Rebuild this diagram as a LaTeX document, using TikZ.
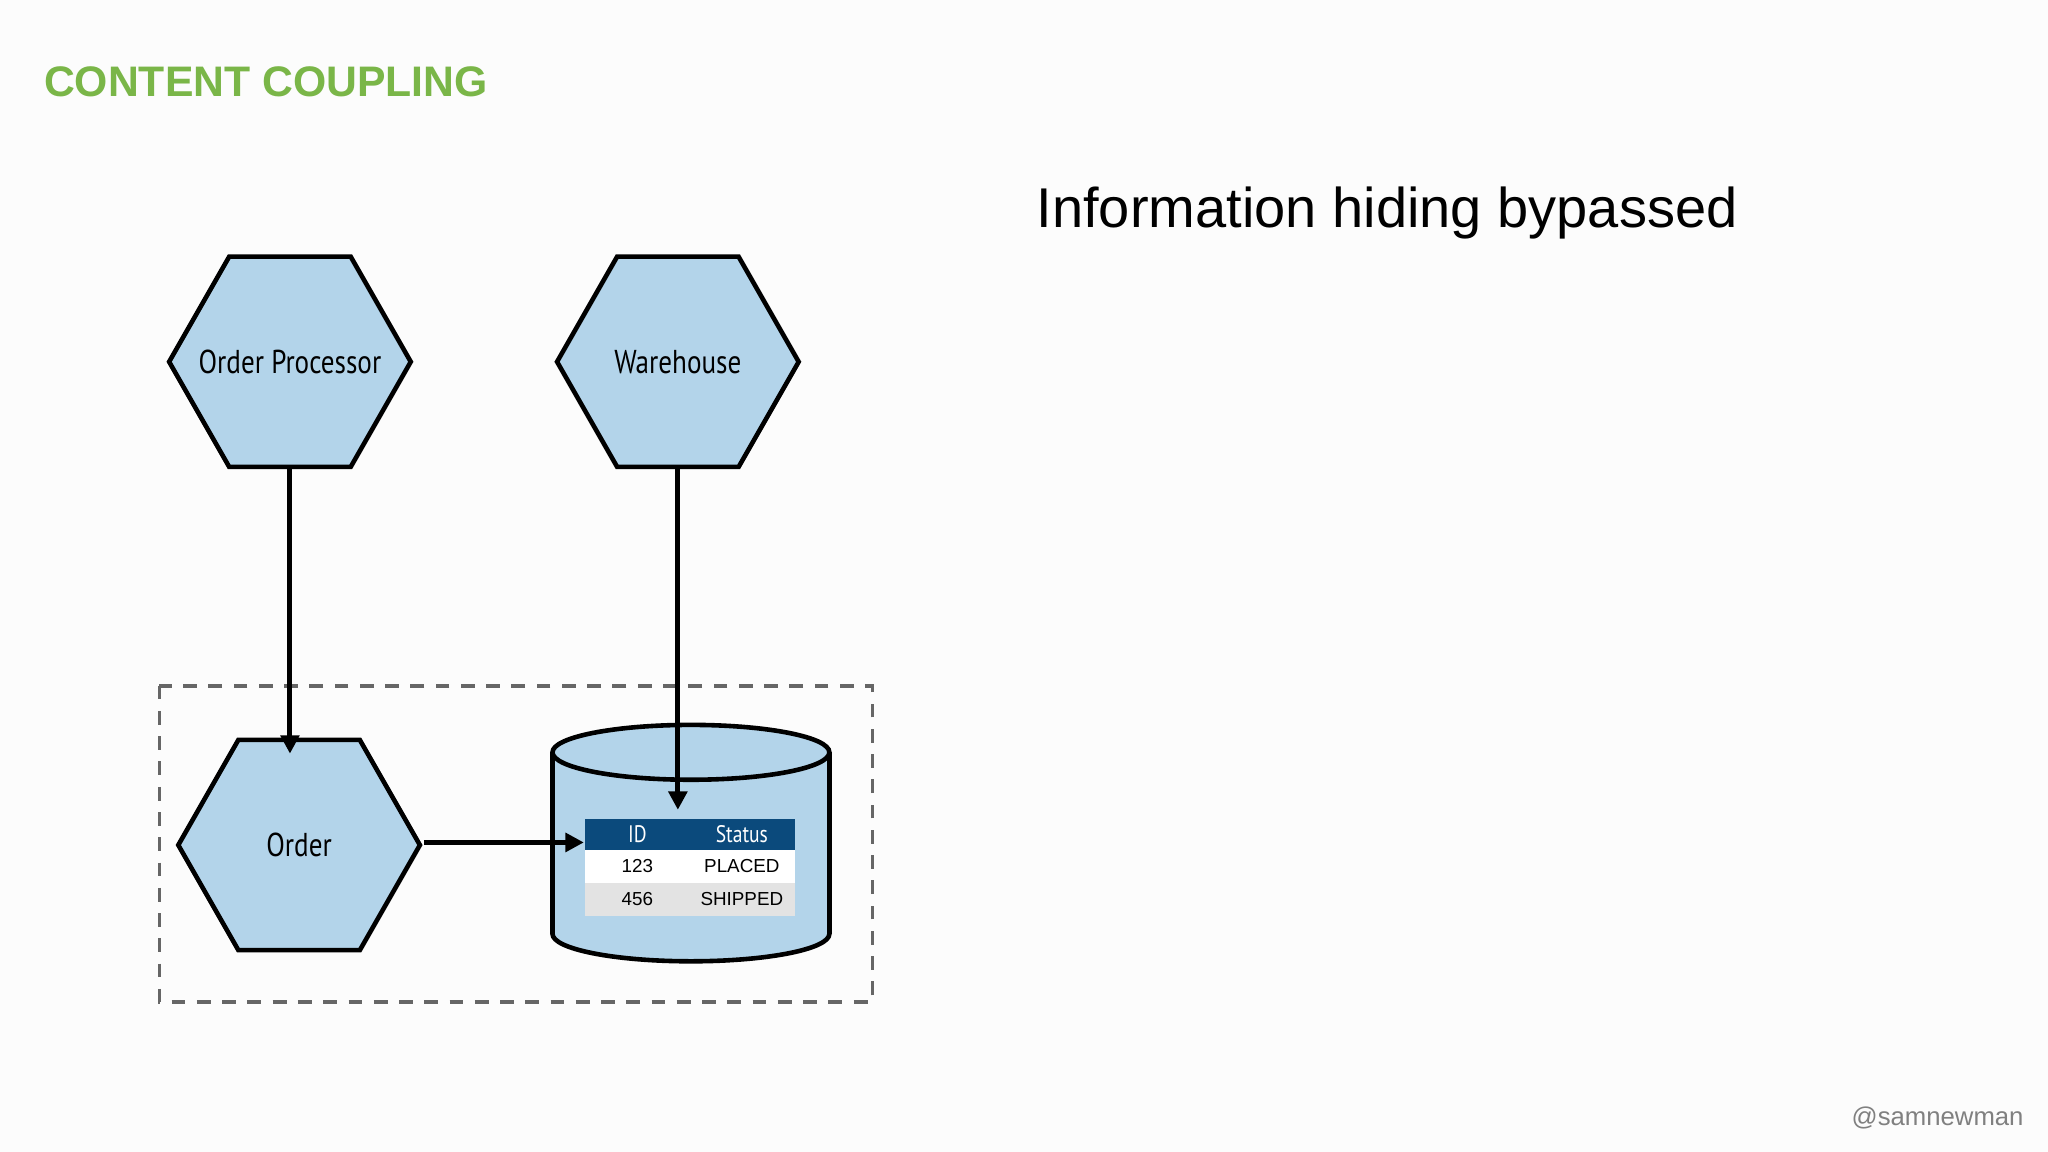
\documentclass[tikz,border=0pt]{standalone}
\usepackage{fontspec}
\setmainfont{Liberation Sans}
\newfontfamily\narrow{PT Sans}[FakeStretch=0.82]
\usetikzlibrary{arrows.meta,calc}
\definecolor{hexblue}{HTML}{B3D4EA}
\definecolor{ttl}{HTML}{7AB648}
\definecolor{hdr}{HTML}{0B4A7C}
\tikzset{
 hexshape/.style={draw=black,line width=1pt,fill=hexblue,line join=miter},
 hexlbl/.style={inner sep=0pt,font=\narrow\fontsize{7.2}{8}\selectfont},
 arr/.style={line width=1.1pt,-{Triangle[length=4pt,width=4pt]}},
 cell/.style={font=\fontsize{4.1}{5}\selectfont,inner sep=0pt}
}
\newcommand{\myhex}[3]{% name, center, text
 \draw[hexshape] (#2) ++(-92.5,0) -- ++(46,-80.5) -- ++(93,0) -- ++(46,80.5) -- ++(-46,80.5) -- ++(-93,0) -- cycle;
 \node[hexlbl] (#1) at (#2) {#3};
 \coordinate (#1-s) at ($(#2)+(0,80.5)$);
 \coordinate (#1-e) at ($(#2)+(92.5,0)$);
}
\begin{document}
\begin{tikzpicture}[x=0.01cm,y=-0.01cm]
\fill[white!98!gray] (0,0) rectangle (1568,882);
\useasboundingbox (0,0) rectangle (1568,882);
\node[anchor=west,text=ttl,font=\bfseries\fontsize{9.3}{11}\selectfont,inner sep=0pt] (title) at (33,63) {CONTENT COUPLING};
\node[anchor=west,font=\fontsize{12.2}{14}\selectfont,inner sep=0pt] (info) at (793,163) {Information hiding bypassed};
\node[anchor=east,text=gray,font=\fontsize{5.6}{7}\selectfont,inner sep=0pt] (sig) at (1550,856) {@samnewman};
\draw[line width=0.8pt,gray!80!black,dash pattern=on 3pt off 2.5pt] (122,525) rectangle (668,767);
\myhex{op}{222,277}{Order Processor}
\myhex{wh}{519,277}{Warehouse}
\myhex{ord}{229,647}{Order}
\draw[line width=1pt,fill=hexblue] (529,715) ellipse[x radius=106,y radius=21];
\fill[hexblue] (423,576) rectangle (635,715);
\draw[line width=1pt] (423,576) -- (423,715) (635,576) -- (635,715);
\draw[line width=1pt,fill=hexblue] (529,576) ellipse[x radius=106,y radius=21];
\coordinate (dbin) at (447,645);
\coordinate (dbtop) at (519,620);
\coordinate (ordtop) at (222,577);
\fill[hdr] (448,627) rectangle (609,651);
\fill[white] (448,651) rectangle (609,676);
\fill[gray!22] (448,676) rectangle (609,701);
\node[cell,text=white,font=\narrow\fontsize{5.2}{6}\selectfont] (h1) at (488,639) {ID};
\node[cell,text=white,font=\narrow\fontsize{5.2}{6}\selectfont] (h2) at (568,639) {Status};
\node[cell] (a1) at (488,663) {123};
\node[cell] (a2) at (568,663) {PLACED};
\node[cell] (b1) at (488,688) {456};
\node[cell] (b2) at (568,688) {SHIPPED};
\draw[arr] (op-s) -- (ordtop);
\draw[arr] (wh-s) -- (dbtop);
\draw[arr] ($(ord-e)+(3,-2)$) -- (dbin);
\end{tikzpicture}
\end{document}
